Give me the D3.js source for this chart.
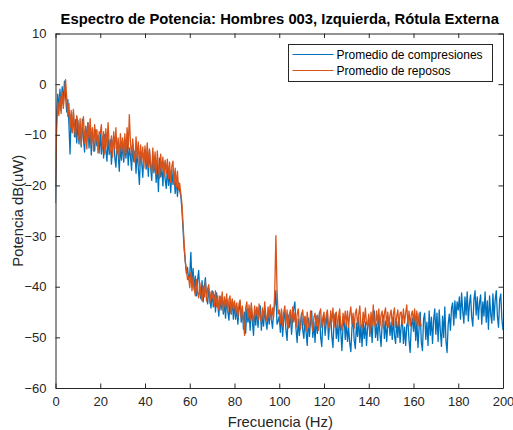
<!DOCTYPE html>
<html>
<head>
<meta charset="utf-8">
<script src="https://cdn.jsdelivr.net/npm/d3@7"></script>
<style>
  html, body { margin: 0; padding: 0; background: #fff; }
  svg { display: block; font-family: "Liberation Sans", Arial, Helvetica, sans-serif; }
</style>
</head>
<body>
<svg id="chart" width="513" height="430"></svg>
<script>
// Power spectrum, 0.5 Hz resolution, values in dB(uW)
const freqStep = 0.5;

const compresiones = [
  -23.5,-6.5,-2.0,-4.8,-1.0,-5.2,-0.5,-3.6,0.6,-2.4,-5.5,-3.0,-7.8,-13.8,-6.0,-9.5,-5.6,-10.4,-7.0,-11.6,
  -7.2,-11.8,-8.0,-12.4,-6.9,-10.8,-13.4,-8.3,-11.0,-7.6,-12.6,-9.2,-14.0,-8.8,-11.5,-13.2,-9.0,-12.2,-10.1,-13.6,
  -9.6,-13.8,-10.4,-14.6,-9.9,-12.9,-15.2,-10.6,-13.9,-11.0,-15.8,-12.2,-10.3,-14.5,-16.4,-11.8,-13.6,-17.2,-12.0,-15.0,
  -11.2,-15.4,-12.0,-14.6,-10.8,-16.0,-12.6,-14.1,-17.0,-11.9,-15.3,-13.2,-17.6,-12.8,-16.5,-19.8,-13.6,-15.2,-18.4,-14.0,
  -12.9,-16.8,-14.0,-18.2,-13.1,-16.4,-19.0,-14.2,-17.5,-15.0,-19.4,-15.8,-21.2,-14.6,-18.3,-16.2,-20.1,-15.4,-18.8,-20.6,
  -16.4,-20.0,-17.2,-21.4,-16.9,-19.8,-18.0,-21.6,-18.6,-22.2,-19.4,-21.0,-22.0,-24.8,-28.6,-32.6,-35.0,-37.4,-36.2,-38.6,
  -37.6,-33.2,-39.8,-36.4,-40.6,-37.9,-41.8,-38.6,-36.8,-41.2,-42.4,-38.8,-43.0,-40.0,-38.2,-42.2,-43.4,-40.4,-42.6,-44.2,
  -40.8,-44.0,-41.6,-45.0,-41.2,-43.6,-45.8,-41.9,-44.6,-42.0,-45.4,-43.2,-46.2,-42.4,-44.8,-46.6,-43.0,-45.4,-42.6,-46.4,
  -43.2,-46.4,-44.0,-47.4,-44.6,-43.0,-47.0,-44.2,-48.4,-45.0,-49.2,-44.4,-47.0,-45.2,-48.6,-44.0,-46.8,-49.6,-45.0,-47.6,
  -44.2,-48.0,-45.4,-43.8,-48.6,-45.6,-47.8,-44.2,-46.8,-48.4,-45.0,-47.4,-44.0,-46.6,-48.2,-44.8,-43.6,-40.8,-47.4,-46.8,
  -45.8,-49.0,-44.8,-49.8,-46.4,-45.0,-48.6,-50.6,-45.6,-48.0,-45.2,-49.4,-46.0,-44.2,-43.0,-48.4,-51.0,-46.4,-49.6,-47.0,
  -45.2,-48.6,-50.2,-46.0,-49.0,-51.6,-46.2,-49.8,-46.8,-44.8,-50.0,-47.0,-51.0,-45.8,-49.2,-47.4,-45.0,-50.0,-51.8,-46.6,
  -46.0,-49.6,-47.2,-45.0,-50.4,-47.6,-45.6,-49.8,-52.0,-46.8,-45.4,-50.2,-47.4,-50.8,-45.8,-48.8,-52.6,-47.8,-46.0,-50.4,
  -47.0,-50.8,-48.0,-51.2,-52.8,-48.0,-46.4,-50.6,-52.2,-47.2,-49.8,-46.0,-51.0,-47.6,-51.8,-46.8,-50.2,-47.0,-51.6,-47.8,
  -46.0,-49.8,-46.8,-51.0,-46.4,-44.8,-50.0,-47.4,-50.6,-45.8,-49.2,-51.8,-47.0,-45.6,-50.2,-46.8,-50.8,-47.6,-46.0,-49.6,
  -47.0,-50.4,-46.0,-49.6,-51.2,-46.8,-50.0,-46.2,-51.0,-47.8,-46.2,-51.2,-48.0,-51.6,-47.6,-46.8,-50.6,-53.0,-47.8,-46.2,
  -48.8,-45.6,-50.6,-46.8,-52.0,-48.0,-45.0,-51.0,-52.6,-46.4,-45.2,-50.4,-47.0,-51.6,-44.8,-49.6,-46.0,-51.2,-46.6,-44.4,
  -49.4,-45.2,-50.8,-44.6,-48.8,-51.8,-45.8,-50.0,-44.0,-50.6,-53.0,-47.4,-45.4,-48.6,-44.2,-43.2,-47.6,-42.8,-46.2,-43.0,
  -44.6,-42.0,-46.4,-41.2,-44.8,-47.2,-42.0,-45.6,-41.0,-46.8,-43.4,-41.6,-46.0,-47.8,-42.6,-40.8,-45.6,-42.0,-46.4,-43.2,
  -41.6,-47.4,-43.0,-45.8,-41.0,-47.0,-42.8,-48.4,-41.8,-45.4,-47.2,-41.4,-46.6,-42.6,-40.8,-45.8,-48.0,-42.6,-41.4,-46.4,
  -48.6
];

const reposos = [
  -20.2,-8.8,-3.6,-6.2,-2.4,-5.8,-1.6,-4.8,-2.0,0.9,-2.6,-6.4,-3.8,-8.6,-5.2,-9.6,-5.0,-8.8,-10.4,-6.2,
  -7.4,-11.0,-6.8,-12.0,-8.2,-6.4,-11.6,-8.4,-12.8,-7.6,-10.8,-6.8,-12.0,-8.6,-13.2,-8.0,-11.4,-9.0,-13.6,-9.4,
  -9.8,-8.0,-12.8,-9.4,-13.8,-8.8,-12.4,-7.6,-11.8,-13.4,-10.2,-14.4,-9.4,-12.8,-8.6,-13.8,-10.6,-14.8,-9.8,-13.2,
  -10.6,-14.4,-9.8,-13.6,-8.6,-12.8,-6.0,-11.6,-14.2,-10.8,-13.8,-15.4,-10.4,-14.6,-11.4,-16.2,-12.0,-15.2,-12.4,-16.6,
  -12.2,-15.8,-11.6,-16.4,-12.8,-15.8,-17.4,-12.6,-16.8,-13.4,-17.8,-13.2,-16.6,-18.6,-13.8,-17.2,-14.4,-18.2,-15.0,-17.6,
  -14.8,-18.6,-15.4,-19.4,-16.2,-15.2,-19.8,-16.6,-20.4,-17.2,-20.8,-19.6,-21.6,-23.6,-27.6,-31.4,-35.0,-36.6,-38.6,-38.0,
  -40.2,-37.2,-40.8,-38.0,-40.4,-41.8,-38.6,-41.2,-42.2,-39.2,-41.6,-42.8,-39.8,-42.0,-39.0,-42.8,-40.4,-39.6,-43.2,-41.0,
  -42.4,-41.0,-43.8,-40.8,-44.0,-41.8,-44.6,-41.8,-43.8,-41.0,-44.8,-42.0,-44.0,-41.4,-45.0,-42.6,-41.8,-45.4,-42.4,-44.4,
  -42.8,-45.4,-43.2,-46.0,-43.4,-42.6,-46.2,-43.8,-46.8,-49.6,-44.2,-43.0,-46.2,-43.6,-46.6,-43.2,-45.6,-47.0,-43.8,-45.8,
  -44.0,-46.6,-43.4,-46.0,-47.0,-44.2,-46.4,-43.0,-45.8,-46.8,-44.0,-46.2,-43.6,-46.6,-44.2,-46.0,-40.8,-29.9,-40.6,-45.4,
  -44.6,-47.2,-44.4,-47.8,-45.0,-43.8,-47.4,-44.6,-48.2,-45.4,-44.6,-47.6,-44.0,-47.0,-45.2,-48.0,-45.4,-44.4,-47.4,-48.4,
  -45.6,-44.6,-47.6,-45.8,-48.8,-45.0,-47.6,-48.2,-44.8,-47.0,-48.8,-46.0,-45.2,-47.8,-45.6,-48.6,-45.2,-44.4,-48.0,-46.0,
  -45.0,-47.8,-45.6,-44.6,-47.6,-48.4,-44.8,-47.0,-44.2,-48.0,-45.4,-45.0,-48.2,-45.8,-44.4,-47.6,-48.6,-45.2,-47.2,-44.8,
  -47.6,-44.8,-48.0,-45.4,-44.0,-47.4,-45.2,-48.2,-45.2,-44.4,-47.8,-45.6,-43.8,-47.6,-48.2,-45.0,-47.0,-44.2,-47.4,-47.8,
  -45.4,-49.2,-45.0,-47.6,-43.6,-47.2,-48.0,-44.8,-47.4,-44.4,-47.8,-45.6,-44.8,-48.2,-45.2,-44.2,-47.6,-45.0,-48.0,-45.6,
  -44.6,-47.6,-45.4,-44.2,-48.0,-45.8,-44.6,-47.8,-45.2,-45.0,-47.4,-44.4,-47.2,-45.2,-43.6,-47.4,-44.8,-47.8,-45.6,-44.8,
  -47.0,-44.4,-47.6,-44.8,-47.8,-45.2,-47.2,-47.8
];

const seriesNames = ["Promedio de compresiones", "Promedio de reposos"];
const seriesColors = ["#0072BD", "#D95319"];
const xTicks = [0, 20, 40, 60, 80, 100, 120, 140, 160, 180, 200];
const yTicks = [10, 0, -10, -20, -30, -40, -50, -60];
const titleText = "Espectro de Potencia: Hombres 003, Izquierda, Rótula Externa";
const xLabel = "Frecuencia (Hz)";
const yLabel = "Potencia dB(uW)";

const svg = d3.select("#chart");
const plotL = 55.5, plotR = 503, plotT = 33.5, plotB = 388;
const axisColor = "#262626";

const x = d3.scaleLinear().domain([0, 200]).range([plotL, plotR]);
const y = d3.scaleLinear().domain([-60, 10]).range([plotB, plotT]);

svg.append("defs").append("clipPath").attr("id", "plotClip")
  .append("rect").attr("x", plotL).attr("y", plotT)
  .attr("width", plotR - plotL).attr("height", plotB - plotT);

const line = d3.line()
  .x((d, i) => x(i * freqStep))
  .y(d => y(d));

const plot = svg.append("g").attr("clip-path", "url(#plotClip)");
[compresiones, reposos].forEach((vals, k) => {
  plot.append("path")
    .datum(vals)
    .attr("fill", "none")
    .attr("stroke", seriesColors[k])
    .attr("stroke-width", 1.3)
    .attr("stroke-linejoin", "round")
    .attr("d", line);
});

// Axes: ticks pointing inward on all four sides, box outline
const tickLen = 4.5;
const bottomAxis = d3.axisBottom(x).tickValues(xTicks).tickSizeInner(-tickLen).tickSizeOuter(0).tickPadding(9);
const topAxis = d3.axisTop(x).tickValues(xTicks).tickSizeInner(-tickLen).tickSizeOuter(0).tickFormat("");
const leftAxis = d3.axisLeft(y).tickValues(yTicks).tickSizeInner(-tickLen).tickSizeOuter(0).tickPadding(9);
const rightAxis = d3.axisRight(y).tickValues(yTicks).tickSizeInner(-tickLen).tickSizeOuter(0).tickFormat("");

function styleAxis(g) {
  g.selectAll("path.domain").attr("stroke", axisColor).attr("stroke-width", 1);
  g.selectAll(".tick line").attr("stroke", axisColor).attr("stroke-width", 1);
  g.selectAll(".tick text").attr("fill", axisColor)
    .style("font-size", "13px")
    .style("font-family", "'Liberation Sans', Arial, sans-serif");
}

svg.append("g").attr("transform", `translate(0,${plotB})`).call(bottomAxis).call(styleAxis);
svg.append("g").attr("transform", `translate(0,${plotT})`).call(topAxis).call(styleAxis);
svg.append("g").attr("transform", `translate(${plotL},0)`).call(leftAxis).call(styleAxis);
svg.append("g").attr("transform", `translate(${plotR},0)`).call(rightAxis).call(styleAxis);

// Title and axis labels
svg.append("text")
  .attr("x", (plotL + plotR) / 2 + 0.5).attr("y", 24)
  .attr("text-anchor", "middle")
  .attr("fill", "#000")
  .style("font-size", "14.8px").style("font-weight", "bold")
  .text(titleText);

svg.append("text")
  .attr("x", (plotL + plotR) / 2 + 1).attr("y", 427)
  .attr("text-anchor", "middle")
  .attr("fill", axisColor)
  .style("font-size", "14.8px")
  .text(xLabel);

svg.append("text")
  .attr("transform", `translate(23,${(plotT + plotB) / 2}) rotate(-90)`)
  .attr("text-anchor", "middle")
  .attr("fill", axisColor)
  .style("font-size", "14.8px")
  .text(yLabel);

// Legend
const legend = svg.append("g");
const lgX = 288.5, lgY = 44.5, lgW = 204, lgH = 37;
legend.append("rect")
  .attr("x", lgX).attr("y", lgY).attr("width", lgW).attr("height", lgH)
  .attr("fill", "#fff").attr("stroke", axisColor).attr("stroke-width", 1);
seriesNames.forEach((name, k) => {
  const ly = lgY + 10 + k * 16;
  legend.append("line")
    .attr("x1", lgX + 4).attr("x2", lgX + 45)
    .attr("y1", ly).attr("y2", ly)
    .attr("stroke", seriesColors[k]).attr("stroke-width", 1.2);
  legend.append("text")
    .attr("x", lgX + 48).attr("y", ly + 4)
    .attr("fill", "#000")
    .style("font-size", "12px")
    .text(name);
});
</script>
</body>
</html>
